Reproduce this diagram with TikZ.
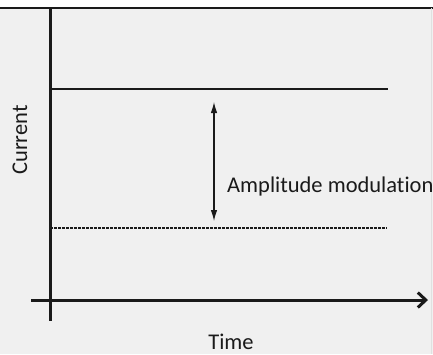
\documentclass[tikz,border=0pt]{standalone}
\usepackage{fontspec}
\setmainfont[Ligatures=NoCommon]{Carlito}
\usetikzlibrary{arrows.meta}
\definecolor{bggray}{HTML}{F0F0F0}
\definecolor{ink}{HTML}{1A1A1A}
\tikzset{
  axis/.style={line width=3pt, draw=ink},
  level/.style={line width=1.4pt, draw=ink},
  dashlevel/.style={line width=1.1pt, draw=ink, dash pattern=on 2.5pt off 1.5pt},
  label/.style={font=\fontsize{22.5}{26}\selectfont, text=ink, inner sep=0pt},
}
\begin{document}
\begin{tikzpicture}[x=1pt,y=-1pt]
\useasboundingbox (0,0) rectangle (433,354);
\fill[white] (0,0) rectangle (433,354);
\fill[bggray] (0,8) rectangle (433,354);
\draw[line width=2pt, ink] (0,7.5) -- (433,7.5);
\draw[line width=0.6pt, black!12] (431.5,8) -- (431.5,354);
% axes
\coordinate (ytop) at (50,8);
\coordinate (ybot) at (50,321);
\coordinate (xl) at (31,300);
\coordinate (xr) at (428,300);
\draw[axis] (ytop) -- (ybot);
\draw[axis, -{Straight Barb[length=8pt,width=15pt]}] (xl) -- (xr);
% levels
\coordinate (s1) at (50,89);
\coordinate (s2) at (388,89);
\coordinate (d1) at (50,228);
\coordinate (d2) at (387,228);
\draw[level] (s1) -- (s2);
\draw[dashlevel] (d1) -- (d2);
% amplitude arrow
\coordinate (a1) at (214,102);
\coordinate (a2) at (214,221);
\draw[line width=1.1pt, ink, {Latex[length=11pt,width=6.5pt]}-{Latex[length=11pt,width=6.5pt]}] (a1) -- (a2);
% labels
\node[label, anchor=base west] (amp) at (227,192) {Amplitude modulation};
\node[label, anchor=base] (time) at (231,349) {Time};
\node[label, rotate=90, anchor=base] (cur) at (27,140) {Current};
\end{tikzpicture}
\end{document}
